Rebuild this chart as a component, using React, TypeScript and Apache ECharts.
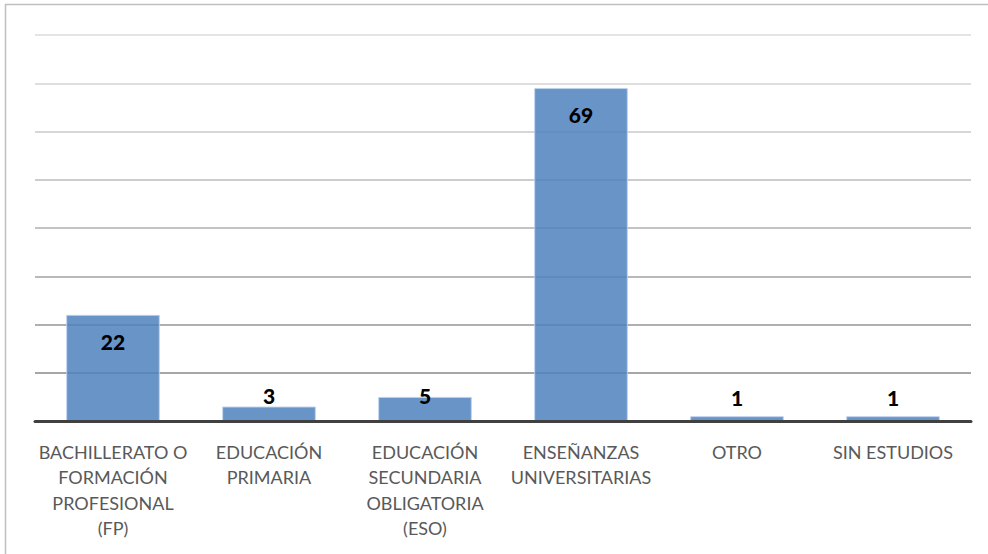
import React, { useEffect, useRef } from "react";
import * as echarts from "echarts";

const categories: string[] = [
  "BACHILLERATO O\nFORMACIÓN\nPROFESIONAL\n(FP)",
  "EDUCACIÓN\nPRIMARIA",
  "EDUCACIÓN\nSECUNDARIA\nOBLIGATORIA\n(ESO)",
  "ENSEÑANZAS\nUNIVERSITARIAS",
  "OTRO",
  "SIN ESTUDIOS",
];
const values: number[] = [22, 3, 5, 69, 1, 1];
const yTicks: number[] = [0, 10, 20, 30, 40, 50, 60, 70, 80];
const gridColors: string[] = [
  "#a6a6a6",
  "#a6a6a6",
  "#afafaf",
  "#b9b9b9",
  "#c3c3c3",
  "#cdcdcd",
  "#d6d6d6",
  "#dedede",
  "#e4e4e4",
];
// label placement per bar: [position, distance]
const labelPlacement: [string, number][] = [
  ["insideTop", 16],
  ["top", 1],
  ["top", -9],
  ["insideTop", 16],
  ["top", 8],
  ["top", 8],
];

const FONT = "Lato, 'Open Sans', sans-serif";

export default function App() {
  const ref = useRef<HTMLDivElement>(null);
  useEffect(() => {
    if (!ref.current) return;
    const chart = echarts.init(ref.current, null, { renderer: "svg" });
    chart.setOption({
      animation: false,
      backgroundColor: "#ffffff",
      graphic: [
        {
          type: "rect",
          shape: { x: 5.5, y: 4.5, width: 1000, height: 600 },
          style: { fill: "none", stroke: "#bfbfbf", lineWidth: 1.5 },
          silent: true,
        },
      ],
      grid: { left: 35, right: 17, top: 35, bottom: 133, containLabel: false },
      xAxis: {
        type: "category",
        data: categories,
        axisTick: { show: false },
        axisLine: { show: true, lineStyle: { color: "#404040", width: 3 } },
        axisLabel: {
          interval: 0,
          margin: 18,
          color: "#595959",
          fontFamily: FONT,
          fontSize: 18,
          lineHeight: 25.5,
        },
        z: 5,
      },
      yAxis: {
        type: "value",
        min: yTicks[0],
        max: yTicks[yTicks.length - 1],
        interval: yTicks[1] - yTicks[0],
        axisLabel: { show: false },
        axisLine: { show: false },
        axisTick: { show: false },
        splitLine: { show: true, lineStyle: { color: gridColors, width: 2 } },
      },
      series: [
        {
          type: "bar",
          barWidth: "60%",
          data: values.map((v, i) => ({
            value: v,
            label: {
              position: labelPlacement[i][0],
              distance: labelPlacement[i][1],
            },
          })),
          itemStyle: {
            color: "rgba(79,129,189,0.85)",
            borderColor: "rgba(190,210,238,0.9)",
            borderWidth: 1,
          },
          label: {
            show: true,
            color: "#000000",
            fontFamily: FONT,
            fontWeight: 900,
            fontSize: 21,
            lineHeight: 21,
          },
        },
      ],
    });
    return () => chart.dispose();
  }, []);
  return (
    <div
      ref={ref}
      style={{ position: "fixed", left: 0, top: 0, width: 988, height: 554 }}
    />
  );
}
